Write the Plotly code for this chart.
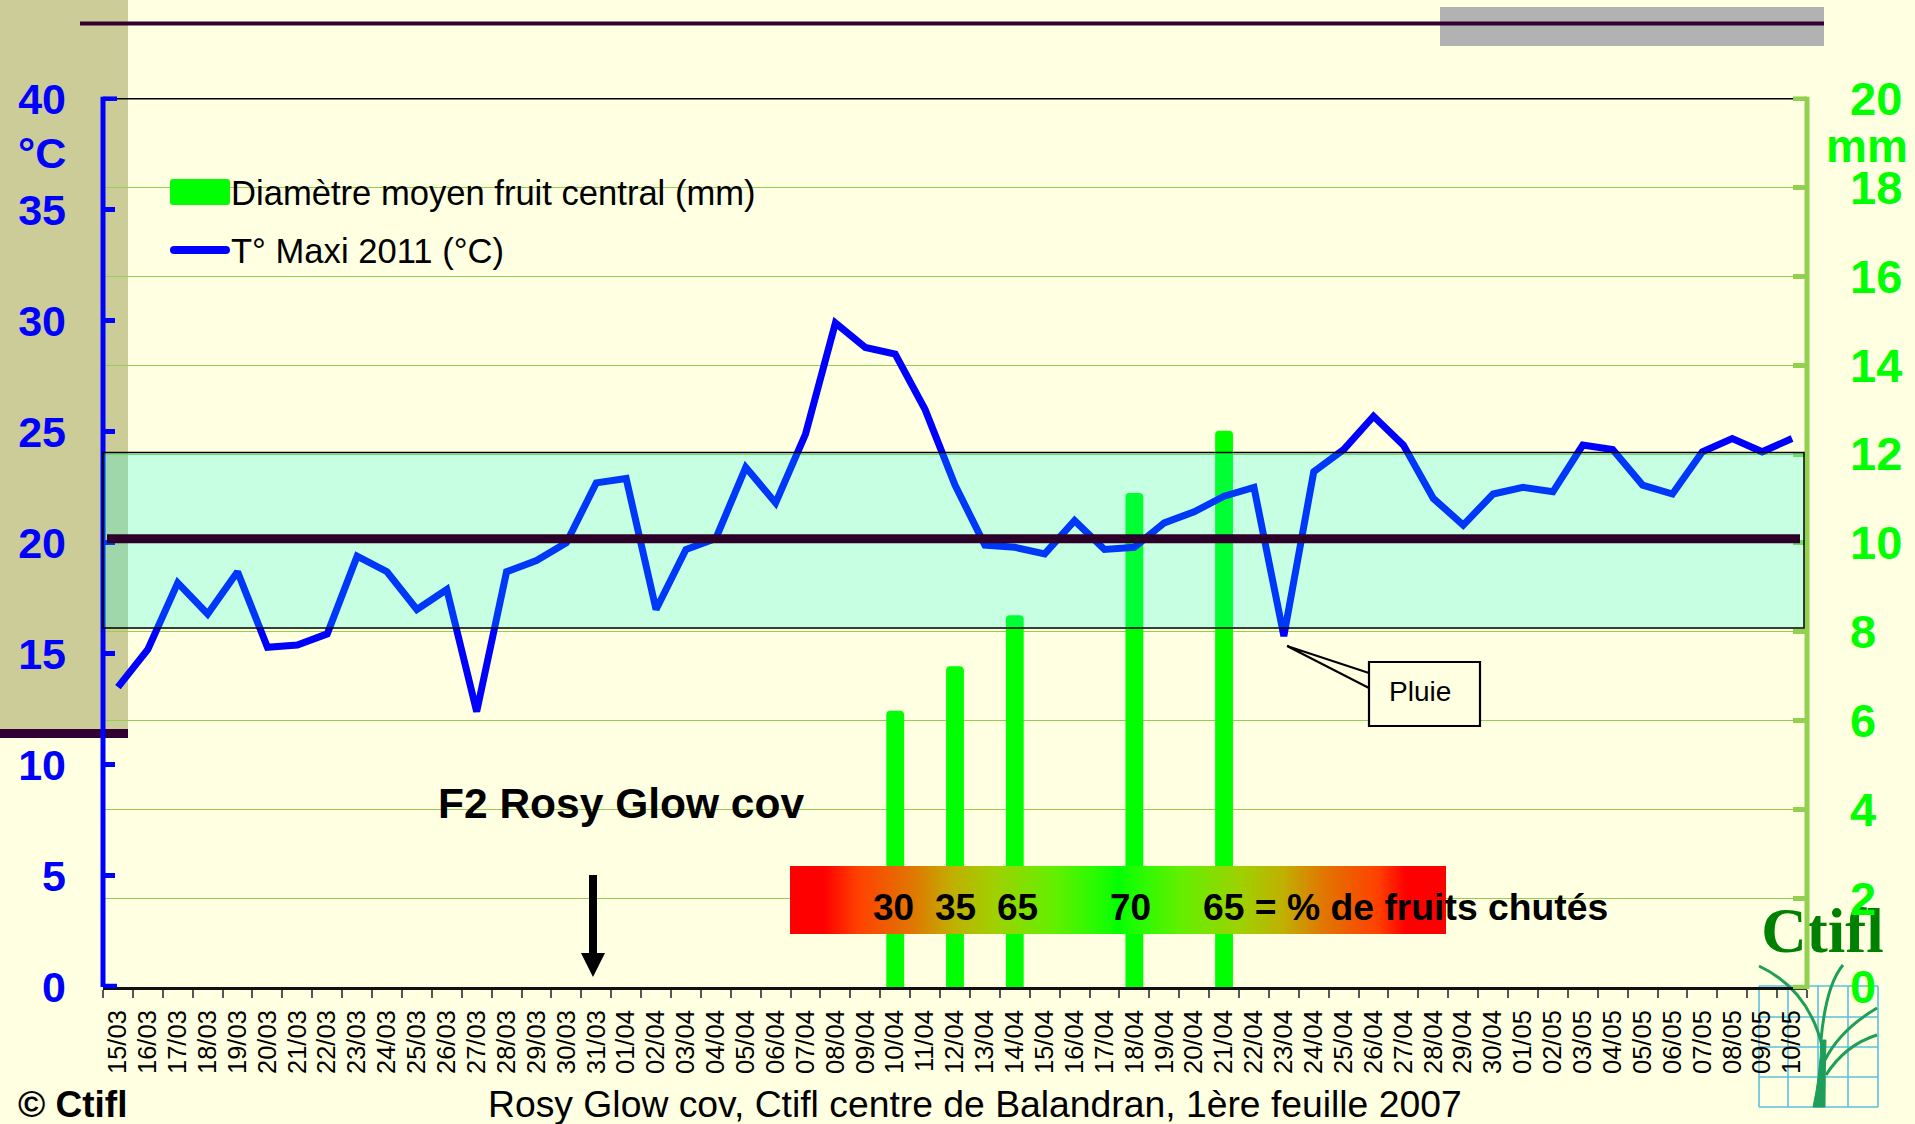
import numpy as np
import plotly.graph_objects as go

W, H = 1915, 1124
BG = "#FFFFE1"
GRID = "#92D050"
LIME = "#00FF00"
BLUE = "#0000FF"
FONT = "Liberation Sans"

dates = ["15/03","16/03","17/03","18/03","19/03","20/03","21/03","22/03","23/03","24/03","25/03","26/03","27/03","28/03","29/03","30/03","31/03",
         "01/04","02/04","03/04","04/04","05/04","06/04","07/04","08/04","09/04","10/04","11/04","12/04","13/04","14/04","15/04","16/04","17/04","18/04","19/04","20/04","21/04","22/04","23/04","24/04","25/04","26/04","27/04","28/04","29/04","30/04",
         "01/05","02/05","03/05","04/05","05/05","06/05","07/05","08/05","09/05","10/05"]
temp_max = [13.5,15.2,18.2,16.8,18.7,15.3,15.4,15.9,19.4,18.7,17.0,17.9,12.4,18.7,19.2,20.0,22.7,
            22.9,17.0,19.7,20.2,23.4,21.8,24.9,29.9,28.8,28.5,26.0,22.6,19.9,19.8,19.5,21.0,19.7,19.8,20.9,21.4,22.1,22.5,15.8,23.2,24.2,25.7,24.4,22.0,20.8,22.2,
            22.5,22.3,24.4,24.2,22.6,22.2,24.1,24.7,24.1,24.7]
diam_dates = ["10/04","12/04","14/04","18/04","21/04"]
diam_mm = [6.2,7.2,8.35,11.1,12.5]
drop_pct = ["30","35","65","70","65"]
band_low, band_high = 16.17, 24.07
mean_temp = 20.18
temp_ticks = [0,5,10,15,20,25,30,35,40]
mm_ticks = [0,2,4,6,8,10,12,14,16,18,20]

def px(x): return x / W
def py(y): return 1 - y / H
def P(*pts): return " ".join(f"{c}{px(x):.5f},{py(y):.5f}" for c, x, y in pts)

L, R, T, B = 103, 1807, 98.7, 987

fig = go.Figure()
fig.add_trace(go.Bar(x=diam_dates, y=diam_mm, name="Diamètre moyen fruit central (mm)", xaxis="x", yaxis="y",
                     marker=dict(color=LIME, line=dict(color=LIME, width=2), cornerradius=3), width=0.53,
                     cliponaxis=False, showlegend=False))
fig.add_trace(go.Scatter(x=dates, y=temp_max, name="T° Maxi 2011 (°C)", xaxis="x", yaxis="y2", mode="lines",
                         line=dict(color=BLUE, width=7), cliponaxis=False, showlegend=False))
# gradient strip
gp = np.linspace(0, 1, 328)
fig.add_trace(go.Heatmap(z=[gp.tolist()], xaxis="x3", yaxis="y3", showscale=False, hoverinfo="skip", zmin=0, zmax=1,
    colorscale=[[0,"#FF0000"],[0.05,"#FF0000"],[0.102,"#FF4000"],[0.1875,"#E07800"],[0.248,"#C0B000"],[0.31,"#A0D000"],
                [0.407,"#60F000"],[0.49,"#10FF00"],[0.5,"#00FF00"],[0.51,"#10FF00"],[0.593,"#60F000"],[0.69,"#A0D000"],
                [0.752,"#C0B000"],[0.8125,"#E07800"],[0.898,"#FF4000"],[0.94,"#FF0000"],[1,"#FF0000"]]))

shapes = []
def rect(x0, y0, x1, y1, fill, layer="below", line=None, lw=0):
    d = dict(type="rect", xref="paper", yref="paper", x0=px(x0), x1=px(x1), y0=py(y1), y1=py(y0),
             fillcolor=fill, layer=layer, line=dict(width=lw, color=line or fill))
    shapes.append(d); return d
def path(d, fill=None, color=None, lw=0, layer="above"):
    s = dict(type="path", xref="paper", yref="paper", path=d, layer=layer, line=dict(width=lw, color=color or "rgba(0,0,0,0)"))
    if fill: s["fillcolor"] = fill
    shapes.append(s)
def rounded(x0, y0, x1, y1, r, fill):
    path(P(("M",x0+r,y0),("L",x1-r,y0)) + f" Q{px(x1):.5f},{py(y0):.5f} {px(x1):.5f},{py(y0+r):.5f} " +
         P(("L",x1,y1-r)) + f" Q{px(x1):.5f},{py(y1):.5f} {px(x1-r):.5f},{py(y1):.5f} " +
         P(("L",x0+r,y1)) + f" Q{px(x0):.5f},{py(y1):.5f} {px(x0):.5f},{py(y1-r):.5f} " +
         P(("L",x0,y0+r)) + f" Q{px(x0):.5f},{py(y0):.5f} {px(x0+r):.5f},{py(y0):.5f} Z", fill=fill)

# background panels
rect(0, 0, 128, 729, "#CCCC99")
rect(0, 729, 128, 738, "#330033")
rect(1440, 7, 1824, 46, "#B2B2B2")
rect(80, 21.5, 1824, 25.5, "#330033")

# logo (behind the axis labels)
LG = "#5BC0DE"
for y in (986, 1017, 1047, 1077, 1107):
    path(P(("M",1759,y),("L",1878,y)), color=LG, lw=1.6, layer="below")
for x in (1759, 1788, 1818, 1848, 1878):
    path(P(("M",x,986),("L",x,1107)), color=LG, lw=1.6, layer="below")
PL = "#1E9E5A"
path(f"M{px(1813):.5f},{py(1107):.5f} Q{px(1820):.5f},{py(1075):.5f} {px(1821):.5f},{py(1040):.5f} L{px(1826):.5f},{py(1040):.5f} Q{px(1825):.5f},{py(1075):.5f} {px(1825):.5f},{py(1107):.5f} Z",
     fill=PL, color=PL, lw=1, layer="below")
for a, c, b in [((1823,1050),(1810,990),(1759,966)), ((1821,1040),(1826,985),(1843,965)),
                ((1825,1060),(1840,1030),(1877,1008)), ((1826,1075),(1845,1045),(1877,1035))]:
    path(f"M{px(a[0]):.5f},{py(a[1]):.5f} Q{px(c[0]):.5f},{py(c[1]):.5f} {px(b[0]):.5f},{py(b[1]):.5f}", color=PL, lw=3, layer="below")
logo = rect(1755, 896, 1890, 951, "rgba(0,0,0,0)", layer="below")
logo["label"] = dict(text="<b>Ctifl</b>", font=dict(family="Liberation Serif", size=63, color="#008000"),
                     textposition="middle center")

# axis spines centred on the plot edges, with the end ticks
def seg(x0, y0, x1, y1, color, width):
    shapes.append(dict(type="line", xref="paper", yref="paper", x0=px(x0), x1=px(x1), y0=py(y0), y1=py(y1), layer="above",
                       line=dict(color=color, width=width)))
seg(L, B, L, T-2, BLUE, 5)
seg(R, B+2, R, T-2, GRID, 5)
seg(L, T, R-14, T, "#000000", 1.5)
seg(L, T, L+14, T, BLUE, 4.5)
seg(L, B-1, L+14, B-1, BLUE, 4.5)
seg(R-14, T, R, T, GRID, 4.5)
seg(R-14, B, R, B, GRID, 4.5)
# translucent band and mean line
shapes.append(dict(type="rect", xref="paper", yref="y2", x0=px(103), x1=px(1804), y0=band_low, y1=band_high, layer="above",
                   fillcolor="rgba(0,255,230,0.22)", line=dict(color="#000000", width=1.5)))
shapes.append(dict(type="line", xref="paper", yref="y2", x0=px(107), x1=px(1800), y0=mean_temp, y1=mean_temp, layer="above",
                   line=dict(color="#2D0029", width=9)))
# legend swatches
rounded(170, 179, 230, 205, 3, LIME)
rounded(170, 246, 230, 254, 4, BLUE)
# arrow
path(P(("M",589,875),("L",597,875),("L",597,953),("L",605,953),("L",593,977),("L",581,953),("L",589,953)) + " Z", fill="#000000")
# callout
path(P(("M",1369,673),("L",1287,646),("L",1369,688)), color="#000000", lw=2)
rect(1369, 662, 1480, 726, BG, layer="above", line="#000000", lw=2.2)

ann = []
def text(x, y, s, size, color="#000000", bold=False, xa="left", family=FONT):
    ann.append(dict(xref="paper", yref="paper", x=px(x), y=py(y), text=s, showarrow=False, xanchor=xa, yanchor="middle",
                    borderpad=0, borderwidth=0, font=dict(family=family, size=size, color=color, weight=700 if bold else 400)))

text(231, 193, "Diamètre moyen fruit central (mm)", 34.6)
text(231, 251, "T° Maxi 2011 (°C)", 34.6)
text(18, 153, "°C", 43, BLUE, True)
text(1867, 146, "mm", 46, LIME, True, "center")
text(438, 803, "F2 Rosy Glow cov", 42.5, bold=True)
text(1420, 691, "Pluie", 28, xa="center")
for cx, s in zip((893, 955, 1017, 1130), drop_pct[:4]):
    text(cx, 907, s, 37, bold=True, xa="center")
text(1203, 907, drop_pct[4] + " = % de fruits chutés", 37.3, bold=True)
text(975, 1104, "Rosy Glow cov, Ctifl centre de Balandran, 1ère feuille 2007", 37.3, xa="center")
text(18, 1104, "© Ctifl", 37, bold=True)

xd = [px(L), px(R)]
yd = [py(B), py(T)]
fig.update_layout(
    width=W, height=H, margin=dict(l=0, r=0, t=0, b=0, autoexpand=False), paper_bgcolor=BG, plot_bgcolor="rgba(0,0,0,0)",
    showlegend=False, bargap=0.47, shapes=shapes, annotations=ann,
    xaxis=dict(domain=xd, type="category", categoryorder="array", categoryarray=dates, range=[-0.5, len(dates)-0.5], automargin=False,
               tickmode="array", tickvals=dates, ticktext=dates, tickson="boundaries", ticks="outside", ticklen=8, tickwidth=1.5,
               tickcolor="#555555", tickangle=-90, tickfont=dict(family=FONT, size=25.5, color="#000000"), ticklabelstandoff=10,
               showline=True, linecolor="#111111", linewidth=3, showgrid=False, anchor="y", zeroline=False),
    yaxis=dict(domain=yd, range=[0, 20], side="right", tickmode="array", tickvals=mm_ticks, ticks="inside", ticklen=14, tickwidth=5, automargin=False,
               tickcolor=GRID, tickfont=dict(family=FONT, size=47, color=LIME, weight=700), ticklabelstandoff=42,
               showline=False, showgrid=True, gridcolor=GRID, gridwidth=1.2, zeroline=False, anchor="x"),
    yaxis2=dict(domain=yd, range=[0, 40], side="left", overlaying="y", tickmode="array", tickvals=temp_ticks, ticks="inside", ticklen=12, automargin=False,
                tickwidth=5, tickcolor=BLUE, tickfont=dict(family=FONT, size=43, color=BLUE, weight=700), ticklabelstandoff=36,
                showline=False, showgrid=False, zeroline=False, anchor="x"),
    xaxis3=dict(domain=[px(790), px(1446)], visible=False, anchor="y3", fixedrange=True, automargin=False),
    yaxis3=dict(domain=[py(934), py(866)], visible=False, anchor="x3", fixedrange=True, automargin=False),
)
fig.write_html("out.html", config=dict(displayModeBar=False),
               post_script="document.body.style.margin='0';document.documentElement.style.overflow='hidden';")
